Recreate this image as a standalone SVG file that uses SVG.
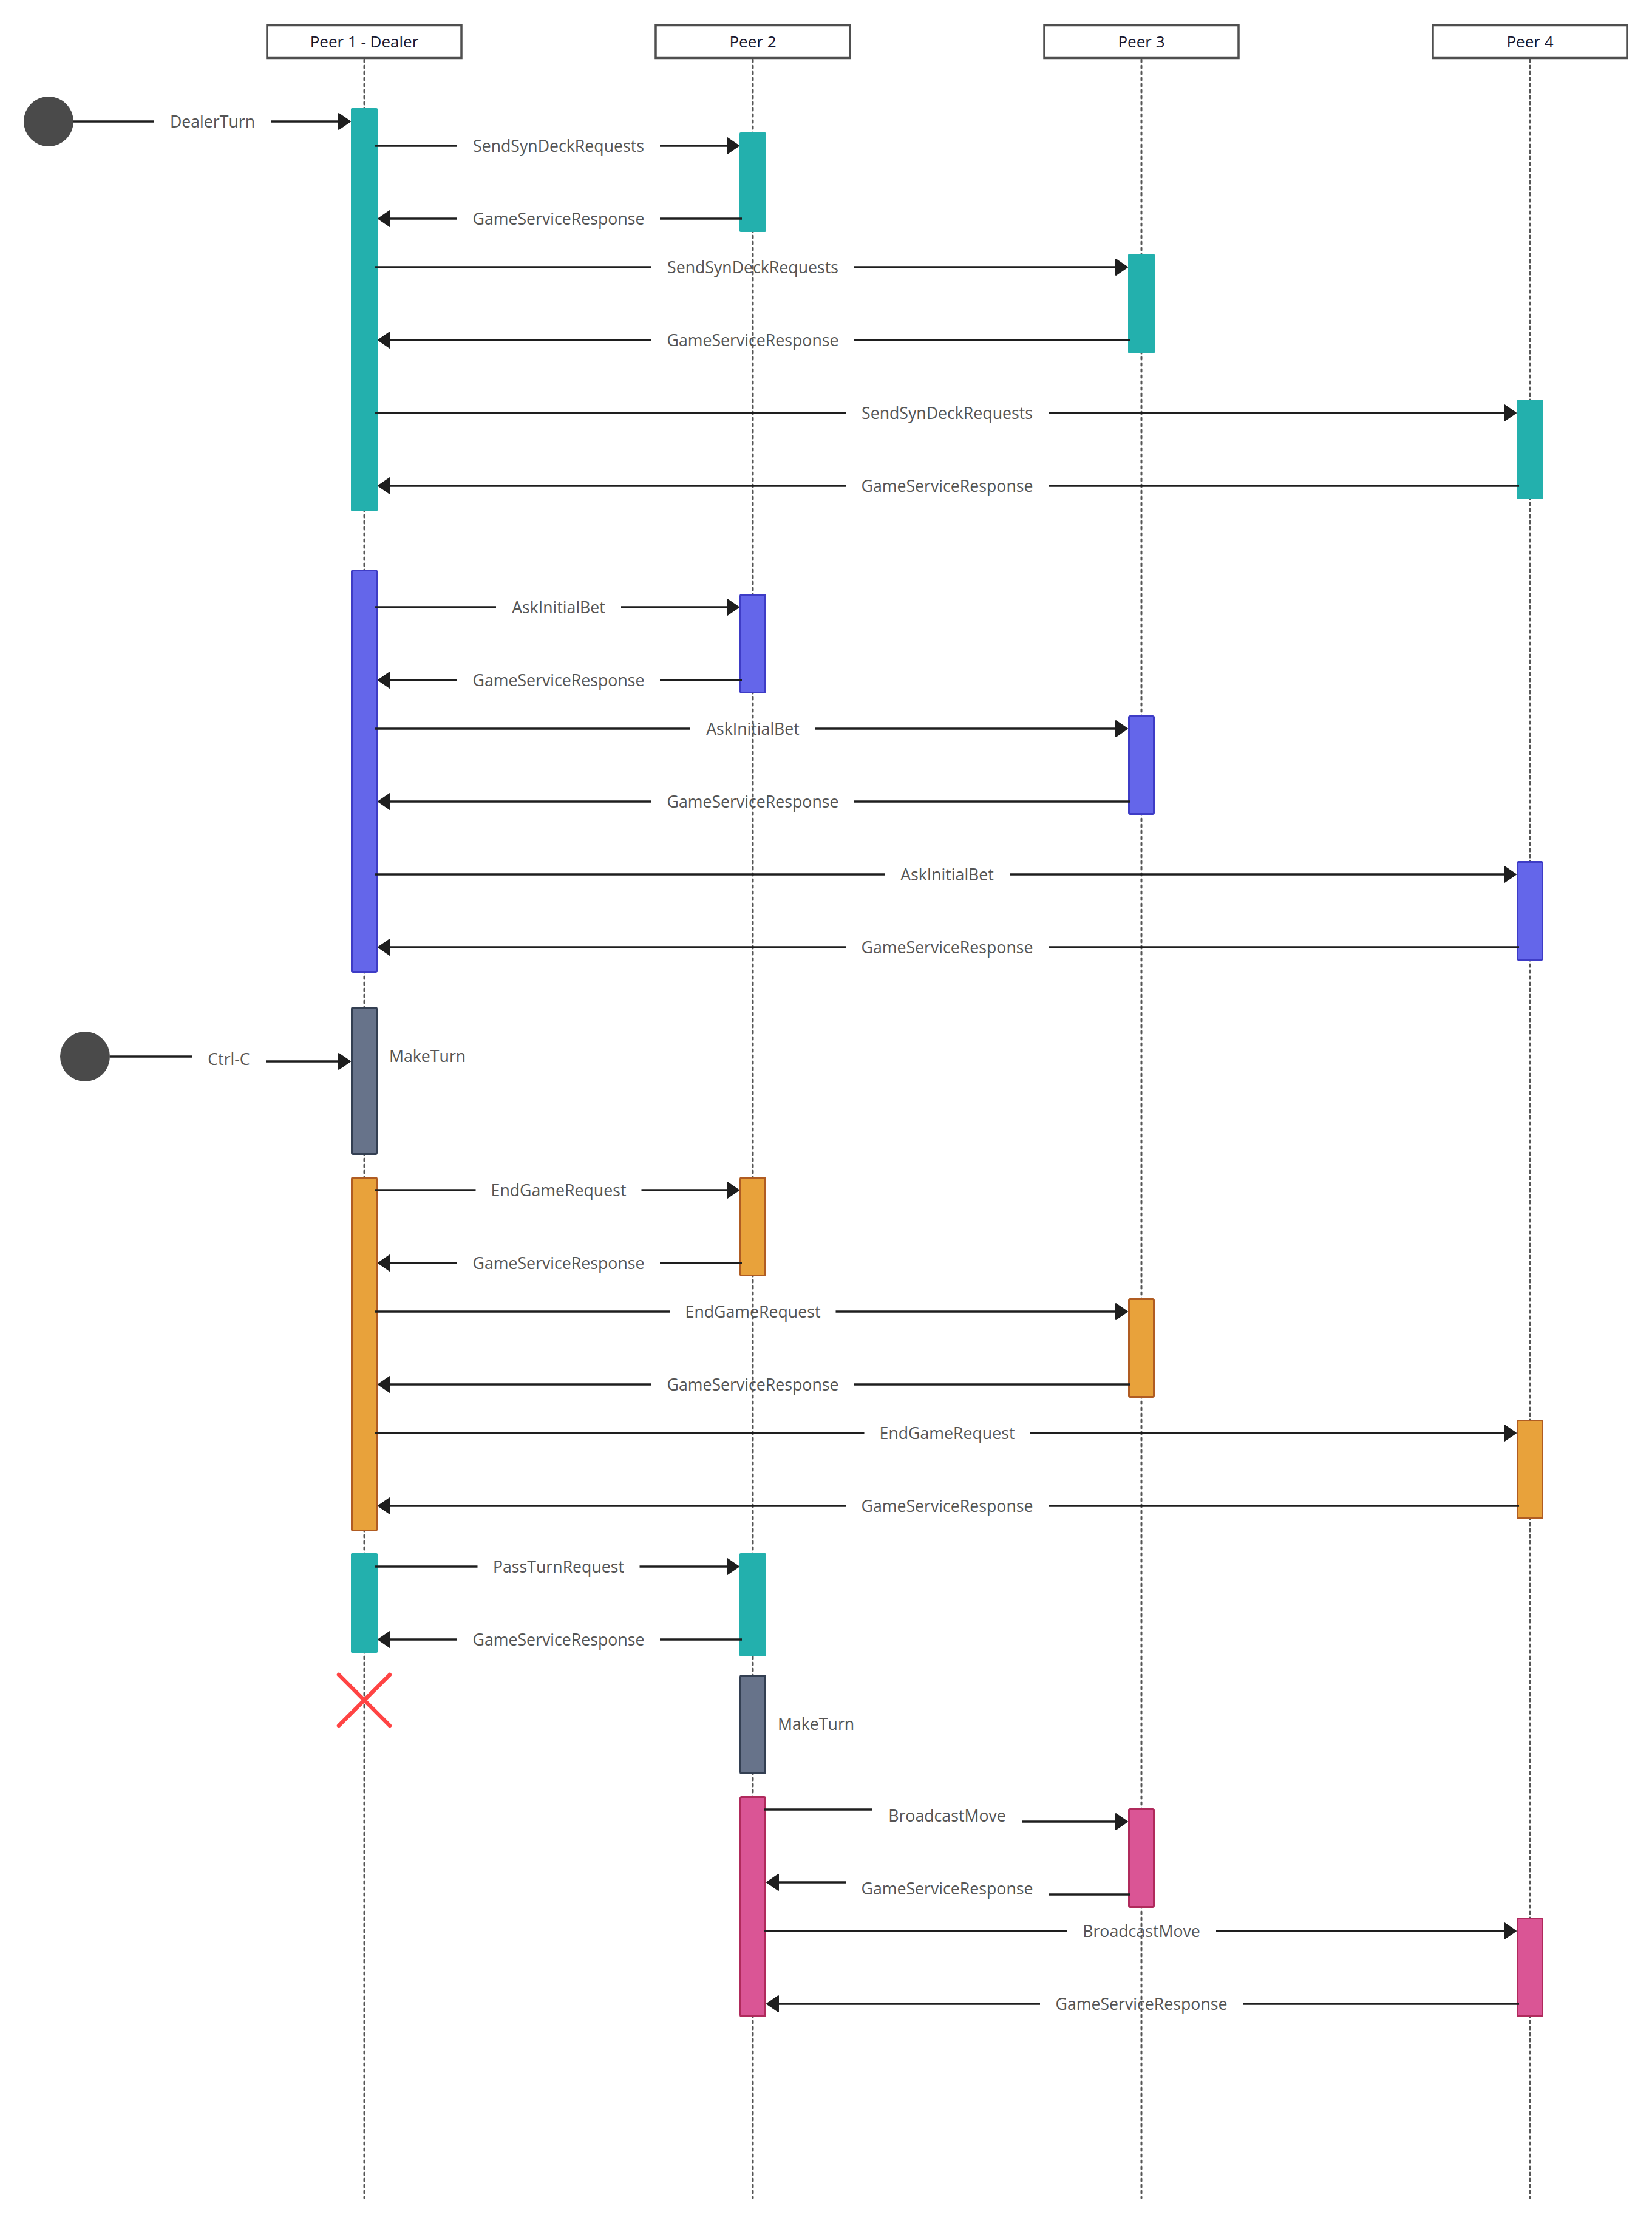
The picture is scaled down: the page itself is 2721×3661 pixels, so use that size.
<svg xmlns="http://www.w3.org/2000/svg" width="2721" height="3661" viewBox="0 0 2721 3661">
<style>
.bg{fill:#ffffff}
.pbox{fill:#ffffff;stroke:#4f4f4f;stroke-width:3.5}
.ptitle{font-family:"Open Sans","Noto Sans",sans-serif;font-size:26px;fill:#16162e;text-anchor:middle}
.life{stroke:#555555;stroke-width:3;stroke-dasharray:4 6;stroke-linecap:round;fill:none}
.msg{stroke:#1e1e1e;stroke-width:3.5;fill:none}
.lbl{font-family:"Open Sans","Noto Sans",sans-serif;font-size:26.7px;fill:#555555;text-anchor:middle}
.note{font-family:"Open Sans","Noto Sans",sans-serif;font-size:26.7px;fill:#555555}
.teal{fill:#23b0ad}
.purple{fill:#6466ea;stroke:#3e3cc6;stroke-width:3}
.gray{fill:#67738a;stroke:#333f52;stroke-width:3}
.orange{fill:#e8a23b;stroke:#b05c22;stroke-width:3}
.pink{fill:#da5595;stroke:#b02a5c;stroke-width:3}
.start{fill:#4a4a4a}
.kill{stroke:#ff4444;stroke-width:6.5;stroke-linecap:round}
</style>
<defs>
<marker id="ah" markerUnits="userSpaceOnUse" markerWidth="24" markerHeight="30" viewBox="0 0 24 30" refX="11" refY="15" orient="auto" overflow="visible">
<path d="M1,2 L20,15 L1,28 z" fill="#1e1e1e" stroke="#1e1e1e" stroke-width="2" stroke-linejoin="round"/>
</marker>
</defs>
<rect class="bg" x="0" y="0" width="2721" height="3661"/>

<g id="lifelines">
<g id="peer1">
<line class="life" x1="600" y1="98" x2="600" y2="3620"/>
<rect class="pbox" x="440" y="41.5" width="320" height="54"/>
<text class="ptitle" x="600" y="78">Peer 1 - Dealer</text>
</g>
<g id="peer2">
<line class="life" x1="1240" y1="98" x2="1240" y2="3620"/>
<rect class="pbox" x="1080" y="41.5" width="320" height="54"/>
<text class="ptitle" x="1240" y="78">Peer 2</text>
</g>
<g id="peer3">
<line class="life" x1="1880" y1="98" x2="1880" y2="3620"/>
<rect class="pbox" x="1720" y="41.5" width="320" height="54"/>
<text class="ptitle" x="1880" y="78">Peer 3</text>
</g>
<g id="peer4">
<line class="life" x1="2520" y1="98" x2="2520" y2="3620"/>
<rect class="pbox" x="2360" y="41.5" width="320" height="54"/>
<text class="ptitle" x="2520" y="78">Peer 4</text>
</g>
</g>

<g id="activations">
<g id="sync-bars">
<rect id="act-p1-sync" class="teal" x="578" y="178" width="44" height="664" rx="2"/>
<rect id="act-p2-sync" class="teal" x="1218" y="218" width="44" height="164" rx="2"/>
<rect id="act-p3-sync" class="teal" x="1858" y="418" width="44" height="164" rx="2"/>
<rect id="act-p4-sync" class="teal" x="2498" y="658" width="44" height="164" rx="2"/>
</g>
<g id="bet-bars">
<rect id="act-p1-bet" class="purple" x="579.5" y="939.5" width="41" height="661" rx="2"/>
<rect id="act-p2-bet" class="purple" x="1219.5" y="979.5" width="41" height="161" rx="2"/>
<rect id="act-p3-bet" class="purple" x="1859.5" y="1179.5" width="41" height="161" rx="2"/>
<rect id="act-p4-bet" class="purple" x="2499.5" y="1419.5" width="41" height="161" rx="2"/>
</g>
<g id="maketurn-p1">
<rect class="gray" x="579.5" y="1659.5" width="41" height="241" rx="2"/>
<text class="note" x="641" y="1749">MakeTurn</text>
</g>
<g id="end-bars">
<rect id="act-p1-end" class="orange" x="579.5" y="1939.5" width="41" height="581" rx="2"/>
<rect id="act-p2-end" class="orange" x="1219.5" y="1939.5" width="41" height="161" rx="2"/>
<rect id="act-p3-end" class="orange" x="1859.5" y="2139.5" width="41" height="161" rx="2"/>
<rect id="act-p4-end" class="orange" x="2499.5" y="2339.5" width="41" height="161" rx="2"/>
</g>
<g id="pass-bars">
<rect id="act-p1-pass" class="teal" x="578" y="2558" width="44" height="164" rx="2"/>
<rect id="act-p2-pass" class="teal" x="1218" y="2558" width="44" height="170" rx="2"/>
</g>
<g id="maketurn-p2">
<rect class="gray" x="1219.5" y="2759.5" width="41" height="161" rx="2"/>
<text class="note" x="1281" y="2849">MakeTurn</text>
</g>
<g id="broadcast-bars">
<rect id="act-p2-bc" class="pink" x="1219.5" y="2959.5" width="41" height="361" rx="2"/>
<rect id="act-p3-bc" class="pink" x="1859.5" y="2979.5" width="41" height="161" rx="2"/>
<rect id="act-p4-bc" class="pink" x="2499.5" y="3159.5" width="41" height="161" rx="2"/>
</g>
</g>

<g id="start-dealer">
<circle class="start" cx="80" cy="200" r="41"/>
</g>
<g id="start-ctrlc">
<circle class="start" cx="140" cy="1740" r="41"/>
</g>
<g id="destroy-p1">
<line class="kill" x1="558" y1="2758" x2="642" y2="2842"/>
<line class="kill" x1="642" y1="2758" x2="558" y2="2842"/>
</g>

<g id="connectors">
<!-- DealerTurn -->
<path class="msg" d="M121,200 H253.5"/>
<path class="msg" d="M446.5,200 H568" marker-end="url(#ah)"/>
<text class="lbl" x="350" y="209.5">DealerTurn</text>

<!-- Sync deck -->
<path class="msg" d="M618,240 H753"/>
<path class="msg" d="M1087,240 H1208" marker-end="url(#ah)"/>
<text class="lbl" x="920" y="249.5">SendSynDeckRequests</text>
<path class="msg" d="M1222,360 H1087"/>
<path class="msg" d="M753,360 H632" marker-end="url(#ah)"/>
<text class="lbl" x="920" y="369.5">GameServiceResponse</text>

<path class="msg" d="M618,440 H1073"/>
<path class="msg" d="M1407,440 H1848" marker-end="url(#ah)"/>
<text class="lbl" x="1240" y="449.5">SendSynDeckRequests</text>
<path class="msg" d="M1862,560 H1407"/>
<path class="msg" d="M1073,560 H632" marker-end="url(#ah)"/>
<text class="lbl" x="1240" y="569.5">GameServiceResponse</text>

<path class="msg" d="M618,680 H1393"/>
<path class="msg" d="M1727,680 H2488" marker-end="url(#ah)"/>
<text class="lbl" x="1560" y="689.5">SendSynDeckRequests</text>
<path class="msg" d="M2502,800 H1727"/>
<path class="msg" d="M1393,800 H632" marker-end="url(#ah)"/>
<text class="lbl" x="1560" y="809.5">GameServiceResponse</text>

<!-- Initial bet -->
<path class="msg" d="M618,1000 H817"/>
<path class="msg" d="M1023,1000 H1208" marker-end="url(#ah)"/>
<text class="lbl" x="920" y="1009.5">AskInitialBet</text>
<path class="msg" d="M1222,1120 H1087"/>
<path class="msg" d="M753,1120 H632" marker-end="url(#ah)"/>
<text class="lbl" x="920" y="1129.5">GameServiceResponse</text>

<path class="msg" d="M618,1200 H1137"/>
<path class="msg" d="M1343,1200 H1848" marker-end="url(#ah)"/>
<text class="lbl" x="1240" y="1209.5">AskInitialBet</text>
<path class="msg" d="M1862,1320 H1407"/>
<path class="msg" d="M1073,1320 H632" marker-end="url(#ah)"/>
<text class="lbl" x="1240" y="1329.5">GameServiceResponse</text>

<path class="msg" d="M618,1440 H1457"/>
<path class="msg" d="M1663,1440 H2488" marker-end="url(#ah)"/>
<text class="lbl" x="1560" y="1449.5">AskInitialBet</text>
<path class="msg" d="M2502,1560 H1727"/>
<path class="msg" d="M1393,1560 H632" marker-end="url(#ah)"/>
<text class="lbl" x="1560" y="1569.5">GameServiceResponse</text>

<!-- Ctrl-C -->
<path class="msg" d="M181,1740 H316"/>
<path class="msg" d="M438,1748 H568" marker-end="url(#ah)"/>
<text class="lbl" x="377" y="1753.5">Ctrl-C</text>

<!-- End game -->
<path class="msg" d="M618,1960 H783.5"/>
<path class="msg" d="M1056.5,1960 H1208" marker-end="url(#ah)"/>
<text class="lbl" x="920" y="1969.5">EndGameRequest</text>
<path class="msg" d="M1222,2080 H1087"/>
<path class="msg" d="M753,2080 H632" marker-end="url(#ah)"/>
<text class="lbl" x="920" y="2089.5">GameServiceResponse</text>

<path class="msg" d="M618,2160 H1103.5"/>
<path class="msg" d="M1376.5,2160 H1848" marker-end="url(#ah)"/>
<text class="lbl" x="1240" y="2169.5">EndGameRequest</text>
<path class="msg" d="M1862,2280 H1407"/>
<path class="msg" d="M1073,2280 H632" marker-end="url(#ah)"/>
<text class="lbl" x="1240" y="2289.5">GameServiceResponse</text>

<path class="msg" d="M618,2360 H1423.5"/>
<path class="msg" d="M1696.5,2360 H2488" marker-end="url(#ah)"/>
<text class="lbl" x="1560" y="2369.5">EndGameRequest</text>
<path class="msg" d="M2502,2480 H1727"/>
<path class="msg" d="M1393,2480 H632" marker-end="url(#ah)"/>
<text class="lbl" x="1560" y="2489.5">GameServiceResponse</text>

<!-- Pass turn -->
<path class="msg" d="M618,2580 H786.5"/>
<path class="msg" d="M1053.5,2580 H1208" marker-end="url(#ah)"/>
<text class="lbl" x="920" y="2589.5">PassTurnRequest</text>
<path class="msg" d="M1222,2700 H1087"/>
<path class="msg" d="M753,2700 H632" marker-end="url(#ah)"/>
<text class="lbl" x="920" y="2709.5">GameServiceResponse</text>

<!-- Broadcast -->
<path class="msg" d="M1258,2980 H1437"/>
<path class="msg" d="M1683,3000 H1848" marker-end="url(#ah)"/>
<text class="lbl" x="1560" y="2999.5">BroadcastMove</text>
<path class="msg" d="M1862,3120 H1727"/>
<path class="msg" d="M1393,3100 H1272" marker-end="url(#ah)"/>
<text class="lbl" x="1560" y="3119.5">GameServiceResponse</text>

<path class="msg" d="M1258,3180 H1757"/>
<path class="msg" d="M2003,3180 H2488" marker-end="url(#ah)"/>
<text class="lbl" x="1880" y="3189.5">BroadcastMove</text>
<path class="msg" d="M2502,3300 H2047"/>
<path class="msg" d="M1713,3300 H1272" marker-end="url(#ah)"/>
<text class="lbl" x="1880" y="3309.5">GameServiceResponse</text>
</g>
</svg>
